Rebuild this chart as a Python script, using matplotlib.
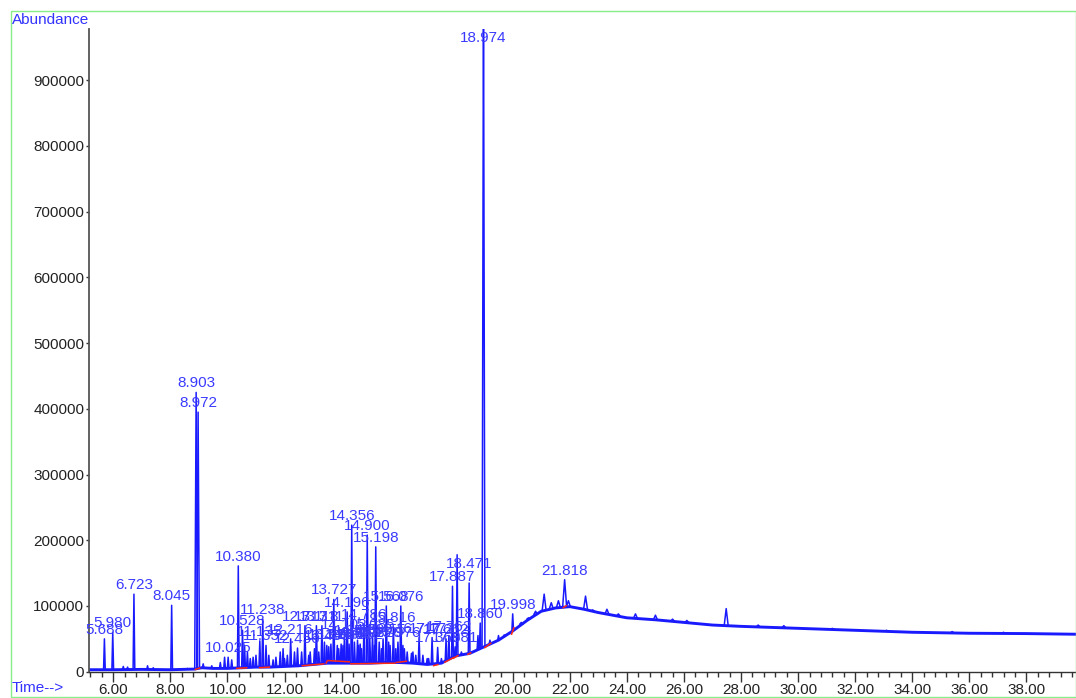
import numpy as np
import matplotlib
matplotlib.use("Agg")
import matplotlib.pyplot as plt
from matplotlib.collections import LineCollection
from matplotlib.patches import Rectangle
from matplotlib.ticker import MultipleLocator, FuncFormatter

plt.rcParams['font.family'] = ['Liberation Sans', 'DejaVu Sans']

# ---- data ----
# baseline (lower envelope of the TIC), time [min] -> abundance
base_t = [5.15, 6.0, 7.0, 8.0, 8.85, 9.1, 9.5, 10.0, 10.5, 11.0, 11.5, 12.0, 12.5, 13.0,
          13.5, 14.0, 14.5, 15.0, 15.5, 16.0, 16.5, 17.0, 17.5, 17.8, 18.0, 18.5, 19.0,
          19.5, 20.0, 20.5, 21.0, 21.5, 22.0, 22.5, 23.0, 24.0, 25.0, 26.0, 27.0, 28.0,
          30.0, 32.0, 34.0, 36.0, 38.0, 39.75]
base_v = [3000, 3000, 3500, 3000, 4000, 6000, 5000, 5000, 6000, 7000, 7000, 8000, 9000, 11000,
          13000, 13000, 13000, 13000, 14000, 14000, 13000, 11000, 13000, 20000, 24000, 28000, 38000,
          48000, 62000, 78000, 92000, 97000, 99000, 95000, 90000, 82000, 79000, 75000, 71000, 69000,
          66000, 63000, 60000, 58500, 58000, 57000]

# peaks: retention time [min] and apex abundance
peak_rt = [5.688, 5.980, 6.35, 6.50, 6.723, 7.20, 7.40, 8.045, 8.60, 8.903, 8.972,
           9.15, 9.45, 9.75, 9.90, 10.025, 10.15, 10.380, 10.528, 10.60, 10.70, 10.80, 10.90,
           11.00, 11.135, 11.238, 11.352, 11.45, 11.60, 11.70, 11.85, 11.95, 12.00, 12.10,
           12.216, 12.35, 12.456, 12.60, 12.717, 12.85, 12.90, 13.05, 13.118, 13.20, 13.311,
           13.40, 13.483, 13.55, 13.626, 13.727, 13.85, 13.90, 13.985, 14.05, 14.102, 14.196,
           14.263, 14.356, 14.450, 14.559, 14.60, 14.652, 14.70, 14.786, 14.900, 14.989,
           15.085, 15.15, 15.198, 15.320, 15.40, 15.455, 15.568, 15.65, 15.70, 15.816, 15.90,
           15.976, 16.076, 16.15, 16.20, 16.30, 16.45, 16.50, 16.60, 16.717, 16.85, 17.00,
           17.05, 17.172, 17.368, 17.50, 17.662, 17.762, 17.887, 17.981, 18.05, 18.20,
           18.471, 18.78, 18.860, 18.974, 19.20, 19.50, 19.70, 19.998, 20.30, 20.55, 20.80,
           21.10, 21.35, 21.60, 21.818, 21.95, 22.55, 22.80, 23.30, 23.70, 24.30, 25.00,
           25.60, 26.10, 27.48, 28.60, 29.50, 31.20, 33.10, 35.40, 37.20]
peak_h = [50000, 60000, 8000, 7000, 118000, 9000, 6000, 101000, 5000, 425000, 395000,
          12000, 9000, 14000, 22000, 22000, 18000, 161000, 63000, 40000, 30000, 20000, 22000,
          25000, 47000, 80000, 40000, 25000, 18000, 22000, 30000, 35000, 20000, 25000,
          50000, 30000, 36000, 30000, 70000, 25000, 30000, 35000, 70000, 30000, 70000,
          45000, 40000, 38000, 42000, 110000, 40000, 35000, 42000, 40000, 57000, 91000,
          42000, 223000, 45000, 48000, 40000, 42000, 35000, 72000, 208000, 50000,
          57000, 40000, 190000, 45000, 35000, 50000, 100000, 45000, 40000, 68000, 35000,
          45000, 100000, 40000, 35000, 30000, 28000, 30000, 25000, 52000, 25000, 20000,
          20000, 52000, 37000, 20000, 50000, 55000, 130000, 38000, 178000, 30000,
          135000, 55000, 74000, 1050000, 48000, 55000, 56000, 88000, 75000, 82000, 92000,
          118000, 105000, 108000, 140000, 108000, 115000, 94000, 95000, 88000, 88000, 86000,
          80000, 78000, 96000, 71000, 70000, 66000, 63000, 61000, 60000]

# peaks that carry a retention-time label
labeled_rt = [5.688, 5.980, 6.723, 8.045, 8.903, 8.972, 10.025, 10.380, 10.528, 11.135,
              11.238, 11.352, 12.216, 12.456, 12.717, 13.118, 13.311, 13.483, 13.626, 13.727,
              13.985, 14.102, 14.196, 14.263, 14.356, 14.450, 14.559, 14.652, 14.786, 14.900,
              14.989, 15.085, 15.198, 15.320, 15.455, 15.568, 15.816, 15.976, 16.076, 16.717,
              17.172, 17.368, 17.662, 17.762, 17.887, 17.981, 18.471, 18.860, 18.974, 19.998,
              21.818]
# labels the data system lifted above their neighbours
lifted_rt = [18.471]

# integration baseline segments (red): t0, v0, t1, v1
red_t0 = [8.85, 10.30, 11.10, 12.60, 13.45, 13.50, 14.30, 15.90, 17.20, 17.60, 17.90, 18.40, 19.00, 19.95, 21.75]
red_v0 = [3000, 5000, 6000, 9000, 12000, 17000, 12000, 14000, 9000, 14000, 20000, 26000, 36000, 56000, 97000]
red_t1 = [9.05, 10.70, 11.50, 13.40, 13.50, 14.30, 15.90, 16.30, 17.40, 17.95, 18.10, 18.55, 19.25, 20.05, 21.90]
red_v1 = [6000, 6000, 7000, 12000, 17000, 15000, 13000, 16000, 11000, 22000, 25000, 29000, 44000, 68000, 101000]

y_ticks = [0, 100000, 200000, 300000, 400000, 500000, 600000, 700000, 800000, 900000]

# ---- figure ----
W, H = 1076, 698
fig = plt.figure(figsize=(W / 100, H / 100), dpi=100)
ax = fig.add_axes([89 / W, 1 - 671.7 / H, (W - 89) / W, (671.7 - 29) / H])

xmin, xmax = 5.148, 39.74
ymin, ymax = 0, 978000
ax.set_xlim(xmin, xmax)
ax.set_ylim(ymin, ymax)

blue = '#1a1aff'
ax.plot(base_t, base_v, color=blue, lw=2.1, solid_joinstyle='round', zorder=2)

segs = []
for rt, h in zip(peak_rt, peak_h):
    b = np.interp(rt, base_t, base_v)
    if h > 300000:
        w = 0.05
    elif rt < 20:
        w = 0.03
    else:
        w = 0.07
    segs.append([(rt - w, b), (rt, h), (rt + w, b)])
ax.add_collection(LineCollection(segs, colors=blue, linewidths=1.1, zorder=3))

red_segs = [[(a, b), (c, d)] for a, b, c, d in zip(red_t0, red_v0, red_t1, red_v1)]
ax.add_collection(LineCollection(red_segs, colors='#ff2a10', linewidths=1.1, zorder=4))

lab_col = '#3a3aff'
for rt in labeled_rt:
    h = peak_h[peak_rt.index(rt)]
    if h < ymax:
        y, off = h, 9
    else:
        y, off = ymax, -9
    if rt in lifted_rt:
        off += 10
    ax.annotate(f"{rt:.3f}", xy=(rt, y), xytext=(0, off), textcoords='offset pixels',
                ha='center', va='center', fontsize=11, color=lab_col, zorder=5,
                annotation_clip=False)

# axes styling
for s in ['top', 'right']:
    ax.spines[s].set_visible(False)
ax.spines['left'].set_color('#555555')
ax.spines['left'].set_linewidth(1.3)
ax.spines['bottom'].set_color('#333333')
ax.spines['bottom'].set_linewidth(1.0)

ax.xaxis.set_major_locator(MultipleLocator(2.0))
ax.xaxis.set_minor_locator(MultipleLocator(0.4))
ax.xaxis.set_major_formatter(FuncFormatter(lambda v, p: f"{v:.2f}"))
ax.set_yticks(y_ticks)
ax.yaxis.set_major_formatter(FuncFormatter(lambda v, p: f"{int(v)}"))
ax.tick_params(axis='x', which='major', length=7, width=1.0, color='#333333',
               labelsize=11, labelcolor='#222222', pad=1)
ax.tick_params(axis='x', which='minor', length=3.5, width=1.0, color='#333333')
ax.tick_params(axis='y', which='major', length=2.5, width=1.0, color='#333333',
               labelsize=11, labelcolor='#222222', pad=1)

fig.text(12 / W, 1 - 20 / H, "Abundance", ha='left', va='center', fontsize=11, color='#3333ff')
fig.text(12 / W, 1 - 688 / H, "Time-->", ha='left', va='center', fontsize=11, color='#3333ff')

fig.patches.append(Rectangle((11 / W, 1 - 697 / H), (W - 11) / W, (697 - 11) / H,
                             transform=fig.transFigure, fill=False, edgecolor='#88ee88',
                             linewidth=1.0, zorder=0))

fig.savefig("out.png", dpi=100)
